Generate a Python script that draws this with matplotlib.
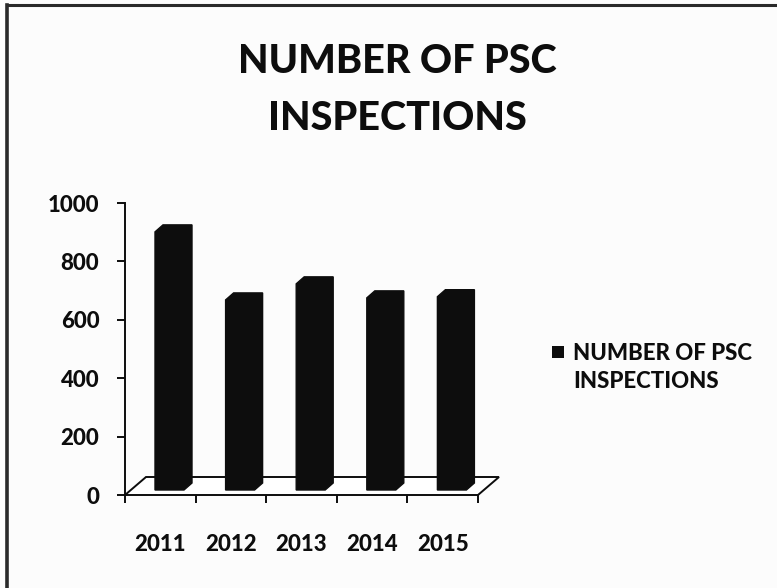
import matplotlib
matplotlib.use("Agg")
import matplotlib.pyplot as plt
from matplotlib.patches import Polygon, Rectangle
from matplotlib.lines import Line2D

# ---- data ----
years = ["2011", "2012", "2013", "2014", "2015"]
inspections = [884, 651, 706, 658, 662]
y_ticks = [0, 200, 400, 600, 800, 1000]
title_lines = ["NUMBER OF PSC", "INSPECTIONS"]
series_lines = ["NUMBER OF PSC", "INSPECTIONS"]

FONT = "Lato"
WEIGHT = 900
INK = "#0d0d0d"

W, H, DPI = 777, 588, 100
fig = plt.figure(figsize=(W / DPI, H / DPI), dpi=DPI)
fig.patch.set_facecolor("#fcfcfc")


def fx(px):
    return px / W


def fy(py):
    return 1 - py / H


# plot area (front plane) in pixels
left, right, top, bottom = 125, 478, 203, 495
ax = fig.add_axes([fx(left), fy(bottom), (right - left) / W, (bottom - top) / H])
ax.set_facecolor("none")
n = len(years)
ax.set_xlim(0, n)
ax.set_ylim(0, 1000)
px_x = (right - left) / n      # pixels per category
px_y = (bottom - top) / 1000   # pixels per unit

# 3-D floor
depth_dx = 21 / px_x
depth_dy = 18 / px_y
floor = Polygon([(0, 0), (n, 0), (n + depth_dx, depth_dy), (depth_dx, depth_dy)],
                closed=True, facecolor="white", edgecolor=INK, lw=1.4,
                clip_on=False, zorder=1)
ax.add_patch(floor)

# extruded columns
bar_off_x = 30 / px_x
bar_off_y = 5 / px_y
face_w = 29 / px_x
bev_x = 8 / px_x
bev_y = 7 / px_y
for i, v in enumerate(inspections):
    x0 = i + bar_off_x
    y0 = bar_off_y
    y1 = y0 + v
    verts = [(x0, y0), (x0 + face_w, y0), (x0 + face_w + bev_x, y0 + bev_y),
             (x0 + face_w + bev_x, y1 + bev_y), (x0 + bev_x, y1 + bev_y), (x0, y1)]
    ax.add_patch(Polygon(verts, closed=True, fc=INK, ec=INK, lw=1,
                         clip_on=False, zorder=2))

# axes styling
for s in ["top", "right", "bottom"]:
    ax.spines[s].set_visible(False)
ax.spines["left"].set_linewidth(1.4)
ax.spines["left"].set_color(INK)

ax.set_yticks(y_ticks)
ax.set_yticklabels([str(t) for t in y_ticks], fontfamily=FONT,
                   fontweight=WEIGHT, fontsize=16, color=INK)
ax.tick_params(axis="y", length=5.5, width=1.4, pad=13, color=INK)

ax.set_xticks(range(n + 1))
ax.set_xticklabels([])
ax.set_xticks([i + 0.5 for i in range(n)], minor=True)
ax.set_xticklabels(years, minor=True, fontfamily=FONT, fontweight=WEIGHT,
                   fontsize=16, color=INK)
ax.tick_params(axis="x", which="major", length=6, width=1.4, color=INK)
ax.tick_params(axis="x", which="minor", length=0, pad=28)

# title
fig.text(fx(397), fy(73), title_lines[0], ha="center", va="baseline",
         fontfamily=FONT, fontweight=WEIGHT, fontsize=28.5, color=INK)
fig.text(fx(397), fy(130), title_lines[1], ha="center", va="baseline",
         fontfamily=FONT, fontweight=WEIGHT, fontsize=28.5, color=INK)

# legend
fig.patches.append(Rectangle((fx(552), fy(358)), 12 / W, 12 / H,
                             transform=fig.transFigure, fc=INK, ec="none"))
fig.text(fx(573), fy(360), series_lines[0], ha="left", va="baseline",
         fontfamily=FONT, fontweight=WEIGHT, fontsize=16, color=INK)
fig.text(fx(573), fy(388), series_lines[1], ha="left", va="baseline",
         fontfamily=FONT, fontweight=WEIGHT, fontsize=16, color=INK)

# chart frame (top and left edges)
fig.add_artist(Line2D([fx(7), 1], [fy(4.5), fy(4.5)], transform=fig.transFigure,
                      color="#2a2a2a", lw=2.2))
fig.add_artist(Line2D([fx(7), fx(7)], [fy(4.5), 0], transform=fig.transFigure,
                      color="#2a2a2a", lw=2.6))

fig.savefig("out.png", dpi=DPI, facecolor=fig.get_facecolor())
